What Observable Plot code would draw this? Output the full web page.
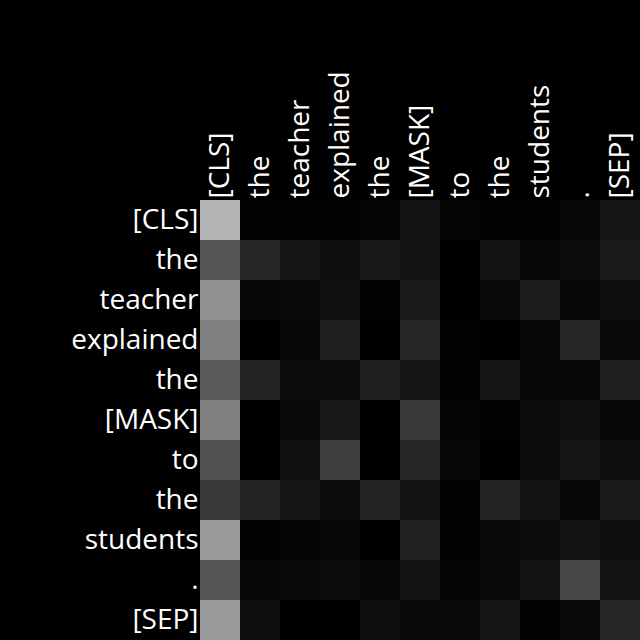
<!DOCTYPE html>
<html>
<head>
<meta charset="utf-8">
<script src="https://cdn.jsdelivr.net/npm/d3@7"></script>
<script src="https://cdn.jsdelivr.net/npm/@observablehq/plot@0.6"></script>
<style>
  html, body { margin: 0; padding: 0; background: #000; }
  #chart svg { display: block; }
</style>
</head>
<body>
<div id="chart"></div>
<script>
const tokens = ["[CLS]", "the", "teacher", "explained", "the", "[MASK]", "to", "the", "students", ".", "[SEP]"];

// attention weights (row = query token, column = key token)
const row0  = [0.702, 0.008, 0.008, 0.008, 0.016, 0.071, 0.016, 0.012, 0.012, 0.031, 0.086];
const row1  = [0.333, 0.153, 0.082, 0.059, 0.094, 0.078, 0.000, 0.078, 0.027, 0.043, 0.106];
const row2  = [0.565, 0.027, 0.035, 0.063, 0.008, 0.106, 0.000, 0.035, 0.110, 0.024, 0.055];
const row3  = [0.502, 0.004, 0.031, 0.125, 0.004, 0.149, 0.008, 0.004, 0.024, 0.145, 0.039];
const row4  = [0.353, 0.137, 0.043, 0.047, 0.118, 0.086, 0.008, 0.086, 0.024, 0.024, 0.118];
const row5  = [0.502, 0.004, 0.035, 0.094, 0.004, 0.224, 0.020, 0.008, 0.043, 0.063, 0.031];
const row6  = [0.314, 0.000, 0.063, 0.239, 0.004, 0.149, 0.031, 0.004, 0.051, 0.082, 0.059];
const row7  = [0.227, 0.141, 0.082, 0.047, 0.141, 0.071, 0.012, 0.141, 0.071, 0.024, 0.102];
const row8  = [0.608, 0.012, 0.020, 0.027, 0.004, 0.129, 0.012, 0.039, 0.051, 0.075, 0.055];
const row9  = [0.333, 0.031, 0.039, 0.047, 0.027, 0.075, 0.016, 0.039, 0.078, 0.282, 0.071];
const row10 = [0.604, 0.059, 0.000, 0.000, 0.055, 0.039, 0.039, 0.082, 0.008, 0.035, 0.153];

const rows = [row0, row1, row2, row3, row4, row5, row6, row7, row8, row9, row10];
const data = rows.flatMap((r, i) => r.map((v, j) => ({i, j, v})));
const idx = d3.range(tokens.length);

const chart = Plot.plot({
  width: 640,
  height: 640,
  marginLeft: 200,
  marginTop: 200,
  marginRight: 0,
  marginBottom: 0,
  style: {background: "#000", color: "#fff", fontFamily: "'Open Sans', sans-serif", fontSize: "28px"},
  x: {domain: idx, padding: 0, axis: "top", tickFormat: i => tokens[i], tickRotate: -90, tickSize: 0, tickPadding: 2, label: null},
  y: {domain: idx, padding: 0, tickFormat: i => tokens[i], tickSize: 0, tickPadding: 2, label: null},
  color: {type: "linear", domain: [0, 1], range: ["#000", "#fff"], interpolate: "rgb"},
  marks: [
    Plot.cell(data, {x: "j", y: "i", fill: "v", inset: 0})
  ]
});
document.getElementById("chart").appendChild(chart);
</script>
</body>
</html>
